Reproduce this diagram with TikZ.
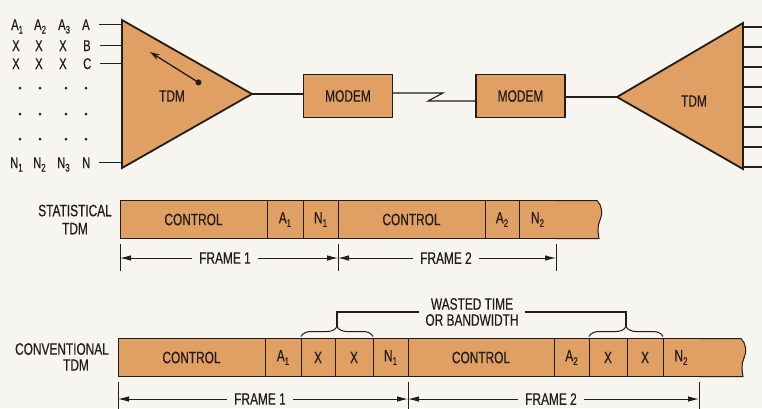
\documentclass[tikz,border=0pt]{standalone}
\usepackage{fontspec}
\setmainfont{Liberation Sans}[FakeStretch=0.72, FakeBold=0.4]
\usetikzlibrary{arrows.meta,positioning,calc,decorations.pathreplacing}

\definecolor{tdmfill}{RGB}{224,160,100}
\definecolor{paper}{RGB}{247,245,240}
\definecolor{ink}{RGB}{35,28,24}
\newcommand{\lowidx}[1]{\raisebox{-3.5pt}{\fontsize{11}{11}\selectfont #1}}

\begin{document}
\begin{tikzpicture}[
  x=1pt, y=-1pt,
  font=\fontsize{16.5}{18}\selectfont, text=ink,
  tdm/.style={draw=ink, line width=1.8pt, fill=tdmfill},
  modem/.style={draw=ink, line width=1.4pt, fill=tdmfill, minimum width=89pt, minimum height=43pt,
                inner sep=0pt},
  cell/.style={draw=ink, line width=1pt, fill=tdmfill, minimum height=38pt, inner sep=0pt, outer sep=0pt},
  endcap/.style={draw=ink, line width=1pt, fill=tdmfill},
  wire/.style={draw=ink, line width=1.1pt},
  dimline/.style={draw=ink, line width=0.9pt},
  dimarrow/.style={dimline, -{Latex[length=11pt,width=5.5pt]}},
  lbl/.style={font=\fontsize{15.5}{16}\selectfont, inner sep=0pt, anchor=base west},
  frm/.style={inner xsep=7pt, inner ysep=0pt},
  brc/.style={draw=ink, line width=1pt, decorate, decoration={brace, amplitude=10pt, raise=2pt}}
]
\fill[paper] (0,0) rectangle (762,408);
\useasboundingbox (0,0) rectangle (762,408);

% sources
\node[lbl] (a1) at (11,30) {A\lowidx{1}};
\node[lbl] (a2) at (34,30) {A\lowidx{2}};
\node[lbl] (a3) at (58,30) {A\lowidx{3}};
\node[lbl] (ina) at (82,30) {A};
\foreach \x [count=\i] in {12,35,59} {
  \node[lbl] (xb\i) at (\x,51) {X};
  \node[lbl] (xc\i) at (\x,69) {X};
}
\node[lbl] (inb) at (83,51) {B};
\node[lbl] (inc) at (83,69) {C};
\foreach \x in {20,40,66,86}
  \foreach \y in {88,114,139}
    \fill[ink] (\x,\y) circle (1.5pt);
\node[lbl] (n1) at (10,168) {N\lowidx{1}};
\node[lbl] (n2) at (33,168) {N\lowidx{2}};
\node[lbl] (n3) at (57,168) {N\lowidx{3}};
\node[lbl] (inn) at (82,168) {N};

% left multiplexer
\coordinate (lt) at (122,20);
\coordinate (lb) at (122,168);
\coordinate (lp) at (252,94);
\foreach \n in {ina,inb,inc,inn}
  \draw[wire] ([xshift=9pt]\n.east) -- (\n.east -| lt);
\draw[tdm] (lt) -- (lp) -- (lb) -- cycle;
\node (tdml) at (172,96) {TDM};
\draw[ink, line width=1.3pt, {Circle[length=6pt]}-{Stealth[length=10pt,width=6pt]}] (201,84) -- (150,52);

% link
\node[modem] (m1) at (348,96) {MODEM};
\node[modem] (m2) at (520.5,96) {MODEM};
\coordinate (z1) at (443,93);
\coordinate (z2) at (428,101);
\coordinate (rt) at (743,23);
\coordinate (rb) at (743,169);
\coordinate (rp) at (617,97);
\draw[wire] (lp) -- (lp -| m1.west);
\draw[wire] (z1 -| m1.east) -- (z1) -- (z2) -- (z2 -| m2.west);
\draw[wire] (m2.east |- rp) -- (rp);

% right multiplexer
\foreach \y in {27,47,...,167}
  \draw[wire] (743,\y) -- (763,\y);
\draw[tdm] (rt) -- (rb) -- (rp) -- cycle;
\node (tdmr) at (694,101) {TDM};

% statistical frame
\node[align=center] (stat) at (75,219.5) {STATISTICAL\\TDM};
\node[cell, minimum width=147pt, anchor=west] (sc1) at (120,219.5) {CONTROL};
\node[cell, minimum width=36pt, right=0pt of sc1] (sa1) {A\lowidx{1}};
\node[cell, minimum width=35pt, right=0pt of sa1] (sn1) {N\lowidx{1}};
\node[cell, minimum width=147pt, right=0pt of sn1] (sc2) {CONTROL};
\node[cell, minimum width=34pt, right=0pt of sc2] (sa2) {A\lowidx{2}};
\node[cell, minimum width=37pt, right=0pt of sa2] (sn2) {N\lowidx{2}};
\path[endcap] (sn2.north east) -- (597,200.5) .. controls (602,205) and (603,214) .. (600,220)
  .. controls (597,226) and (598,233) .. (599,238.5) -- (sn2.south east);

\coordinate (s0) at (120,258);
\coordinate (s1) at (338,258);
\coordinate (s2) at (556,258);
\foreach \p in {s0,s1,s2}
  \draw[dimline] ([yshift=14pt]\p) -- ([yshift=-13pt]\p);
\node[frm] (sf1) at (225,258) {FRAME 1};
\node[frm] (sf2) at (446,258) {FRAME 2};
\draw[dimarrow] (sf1.west) -- (s0);
\draw[dimarrow] (sf1.east) -- (s1);
\draw[dimarrow] (sf2.west) -- (s1);
\draw[dimarrow] (sf2.east) -- (s2);

% conventional frame
\node (conv) at (62,349) {CONVENTIONAL};
\node (convt) at (76,365) {TDM};
\node[cell, minimum width=147pt, anchor=west] (cc1) at (118,357.5) {CONTROL};
\node[cell, minimum width=36pt, right=0pt of cc1] (ca1) {A\lowidx{1}};
\node[cell, minimum width=34pt, right=0pt of ca1] (cx1) {X};
\node[cell, minimum width=38pt, right=0pt of cx1] (cx2) {X};
\node[cell, minimum width=35pt, right=0pt of cx2] (cn1) {N\lowidx{1}};
\node[cell, minimum width=146pt, right=0pt of cn1] (cc2) {CONTROL};
\node[cell, minimum width=35pt, right=0pt of cc2] (ca2) {A\lowidx{2}};
\node[cell, minimum width=38pt, right=0pt of ca2] (cx3) {X};
\node[cell, minimum width=36pt, right=0pt of cx3] (cx4) {X};
\node[cell, minimum width=36pt, right=0pt of cx4] (cn2) {N\lowidx{2}};
\path[endcap] (cn2.north east) -- (741,338.5) .. controls (746,343) and (747,352) .. (744,358)
  .. controls (741,364) and (742,371) .. (743,376.5) -- (cn2.south east);

% wasted slots
\draw[brc] (cx1.north west) -- (cx2.north east);
\draw[brc] (cx3.north west) -- (cx4.north east);
\coordinate (w1) at ($(cx1.north west)!0.5!(cx2.north east) + (0,-12)$);
\coordinate (w2) at ($(cx3.north west)!0.5!(cx4.north east) + (0,-12)$);
\node[align=center, font=\fontsize{16.5}{16}\selectfont, inner xsep=6pt] (waste) at (472,312) {WASTED TIME\\OR BANDWIDTH};
\draw[wire] (w1) |- (waste.west);
\draw[wire] (waste.east) -| (w2);

\coordinate (c0) at (118,399);
\coordinate (c1) at (408,399);
\coordinate (c2) at (699,399);
\foreach \p in {c0,c1,c2}
  \draw[dimline] ([yshift=17pt]\p) -- ([yshift=-10pt]\p);
\node[frm] (cf1) at (260,399) {FRAME 1};
\node[frm] (cf2) at (551,399) {FRAME 2};
\draw[dimarrow] (cf1.west) -- (c0);
\draw[dimarrow] (cf1.east) -- (c1);
\draw[dimarrow] (cf2.west) -- (c1);
\draw[dimarrow] (cf2.east) -- (c2);
\end{tikzpicture}
\end{document}
